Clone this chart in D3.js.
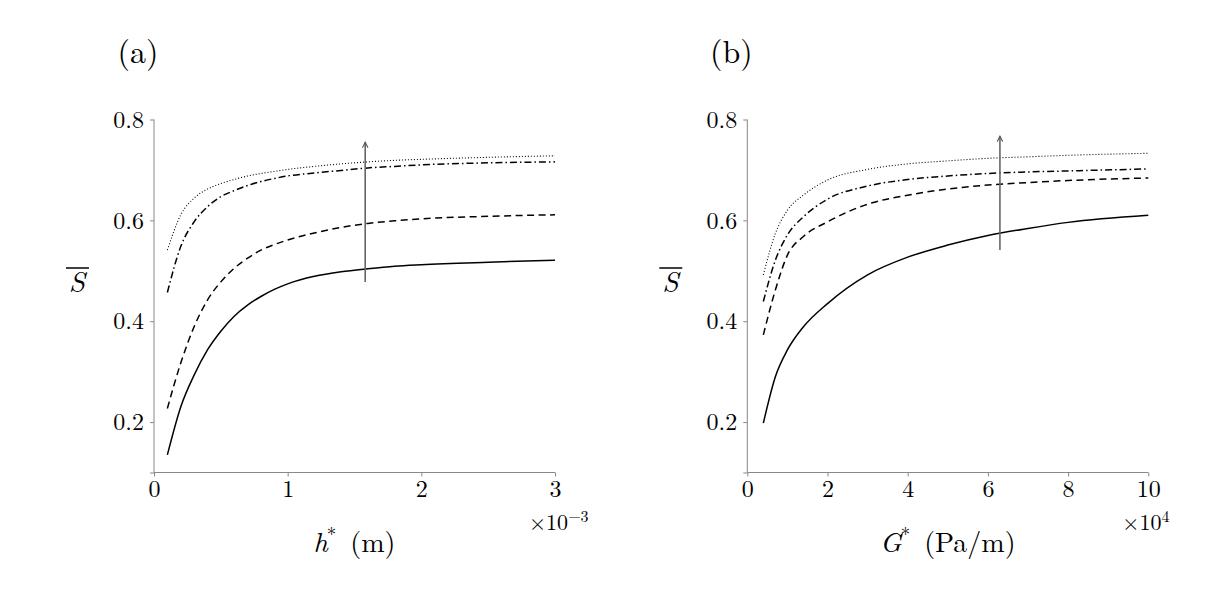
<!DOCTYPE html>
<html>
<head>
<meta charset="utf-8">
<script src="https://cdn.jsdelivr.net/npm/d3@7"></script>
<style>
  body { margin: 0; background: #fff; }
  text { font-family: "Latin Modern Roman", "CMU Serif", "Liberation Serif", serif; fill: #000; }
</style>
</head>
<body>
<div id="chart"></div>
<script>
// panel (a): h* in units of 1e-3 m
var hVals = [0.1, 0.2, 0.3, 0.4, 0.5, 0.6, 0.7, 0.8, 0.9, 1.0, 1.2, 1.4, 1.6, 1.8, 2.0, 2.5, 3.0];
var aSolid   = [0.135, 0.23, 0.293, 0.343, 0.38, 0.41, 0.432, 0.449, 0.463, 0.474, 0.489, 0.498, 0.504, 0.509, 0.512, 0.517, 0.521];
var aDashed  = [0.227, 0.317, 0.389, 0.442, 0.478, 0.505, 0.525, 0.541, 0.552, 0.561, 0.575, 0.586, 0.594, 0.599, 0.603, 0.608, 0.611];
var aDashDot = [0.457, 0.548, 0.597, 0.627, 0.647, 0.659, 0.669, 0.677, 0.683, 0.688, 0.694, 0.699, 0.704, 0.707, 0.71, 0.714, 0.716];
var aDotted  = [0.541, 0.611, 0.644, 0.662, 0.673, 0.681, 0.688, 0.693, 0.697, 0.701, 0.707, 0.712, 0.716, 0.719, 0.721, 0.725, 0.728];

// panel (b): G* in units of 1e4 Pa/m
var gVals = [0.4, 0.7, 1.0, 1.4, 2, 3, 4, 5, 6, 7, 8, 10];
var bSolid   = [0.198, 0.29, 0.343, 0.389, 0.435, 0.492, 0.527, 0.551, 0.57, 0.584, 0.596, 0.61];
var bDashed  = [0.373, 0.462, 0.531, 0.568, 0.597, 0.632, 0.65, 0.662, 0.67, 0.675, 0.679, 0.684];
var bDashDot = [0.439, 0.521, 0.571, 0.607, 0.642, 0.668, 0.681, 0.688, 0.693, 0.696, 0.698, 0.702];
var bDotted  = [0.492, 0.574, 0.62, 0.65, 0.68, 0.701, 0.712, 0.718, 0.723, 0.726, 0.729, 0.733];

var yTicks = [0.2, 0.4, 0.6, 0.8];
var hTicks = [0, 1, 2, 3];
var gTicks = [0, 2, 4, 6, 8, 10];

// arrows: x position, from, to
var arrowA = {x: 1.58, y0: 0.478, y1: 0.755};
var arrowB = {x: 6.3, y0: 0.541, y1: 0.767};

var styles = [
    {dash: null, width: 1.5},
    {dash: "7,4.5", width: 1.5},
    {dash: "7,3,1.5,3", width: 1.5},
    {dash: "1,2", width: 1.1}
];

var svg = d3.select("#chart").append("svg")
    .attr("width", 1211)
    .attr("height", 591);

svg.append("defs").append("marker")
    .attr("id", "head")
    .attr("viewBox", "0 0 10 10")
    .attr("refX", 9).attr("refY", 5)
    .attr("markerWidth", 7).attr("markerHeight", 7)
    .attr("markerUnits", "userSpaceOnUse")
    .attr("orient", "auto")
    .append("path")
    .attr("d", "M1,1 L9,5 L1,9")
    .attr("fill", "none")
    .attr("stroke", "#555")
    .attr("stroke-width", 1.5);

function drawPanel(opt) {
    var x = d3.scaleLinear().domain(opt.xDomain).range([opt.left, opt.right]);
    var y = d3.scaleLinear().domain([0.1, 0.8]).range([472.5, 119.5]);

    var g = svg.append("g");

    // axes
    var xAxis = g.append("g")
        .attr("transform", "translate(0,472.5)")
        .call(d3.axisBottom(x).tickValues(opt.xTicks).tickSize(4).tickPadding(3)
            .tickFormat(d3.format("d")));
    var yAxis = g.append("g")
        .attr("transform", "translate(" + opt.left + ",0)")
        .call(d3.axisLeft(y).tickValues([0.1].concat(yTicks)).tickSize(4).tickPadding(6)
            .tickFormat(function(d) { return d === 0.1 ? "" : d3.format(".1f")(d); }));
    [xAxis, yAxis].forEach(function(a) {
        a.select(".domain").attr("stroke", "#888").attr("stroke-width", 1);
        a.selectAll(".tick line").attr("stroke", "#888");
        a.selectAll(".tick text").attr("font-size", 24).attr("fill", "#000")
            .style("font-family", "\"Latin Modern Roman\", \"CMU Serif\", \"Liberation Serif\", serif");
    });
    xAxis.selectAll(".domain").attr("d", "M" + opt.left + ",0H" + opt.right);
    yAxis.selectAll(".domain").attr("d", "M0,119.5V472.5");

    // curves
    var line = d3.line()
        .x(function(d) { return x(d[0]); })
        .y(function(d) { return y(d[1]); })
        .curve(d3.curveMonotoneX);

    opt.series.forEach(function(s, i) {
        var pts = opt.xVals.map(function(v, j) { return [v, s[j]]; });
        g.append("path")
            .attr("d", line(pts))
            .attr("fill", "none")
            .attr("stroke", "#000")
            .attr("stroke-width", styles[i].width)
            .attr("stroke-dasharray", styles[i].dash);
    });

    // arrow
    g.append("line")
        .attr("x1", x(opt.arrow.x)).attr("x2", x(opt.arrow.x))
        .attr("y1", y(opt.arrow.y0)).attr("y2", y(opt.arrow.y1))
        .attr("stroke", "#666")
        .attr("stroke-width", 1.6)
        .attr("marker-end", "url(#head)");

    // panel label
    g.append("text")
        .attr("x", opt.left - 16).attr("y", 63)
        .attr("text-anchor", "middle")
        .attr("font-size", 32)
        .text(opt.label);

    // y label S with overline
    g.append("text")
        .attr("x", opt.left - 77).attr("y", 292)
        .attr("text-anchor", "middle")
        .attr("font-size", 29)
        .attr("font-style", "italic")
        .text("S");
    g.append("line")
        .attr("x1", opt.left - 88).attr("x2", opt.left - 65)
        .attr("y1", 268).attr("y2", 268)
        .attr("stroke", "#000").attr("stroke-width", 1.5);

    // x label
    var xl = g.append("text")
        .attr("x", (opt.left + opt.right) / 2).attr("y", 552)
        .attr("text-anchor", "middle")
        .attr("font-size", 28);
    xl.append("tspan").attr("font-style", "italic").text(opt.xName);
    xl.append("tspan").attr("font-size", 19).attr("dy", -11).attr("dx", -1).text("*");
    xl.append("tspan").attr("dy", 11).text("\u2002(" + opt.unit + ")");

    // multiplier
    var m = g.append("text")
        .attr("x", opt.right - 26).attr("y", 530)
        .attr("font-size", 22);
    m.append("tspan").text("\u00d710");
    m.append("tspan").attr("font-size", 16).attr("dy", -8).text(opt.exp);
}

drawPanel({
    left: 154, right: 555, xDomain: [0, 3], xTicks: hTicks, xVals: hVals,
    series: [aSolid, aDashed, aDashDot, aDotted], arrow: arrowA,
    label: "(a)", xName: "h", unit: "m", exp: "\u22123"
});

drawPanel({
    left: 747.3, right: 1148.3, xDomain: [0, 10], xTicks: gTicks, xVals: gVals,
    series: [bSolid, bDashed, bDashDot, bDotted], arrow: arrowB,
    label: "(b)", xName: "G", unit: "Pa/m", exp: "4"
});
</script>
</body>
</html>
